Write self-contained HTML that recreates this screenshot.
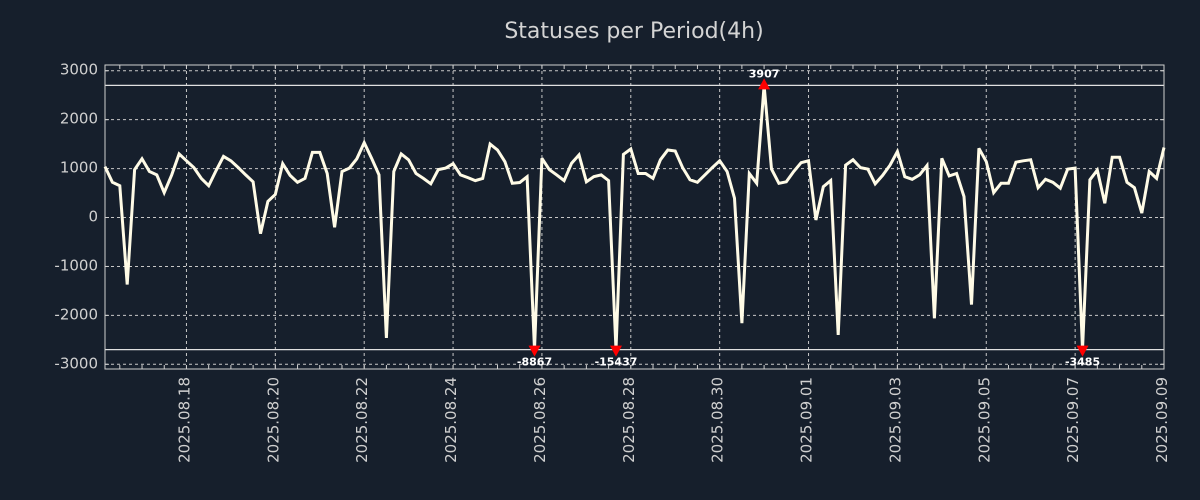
<!DOCTYPE html>
<html><head><meta charset="utf-8">
<style>
html,body{margin:0;padding:0;background:#161f2c;}
svg{display:block;font-family:"DejaVu Sans","Liberation Sans",sans-serif;}
</style></head>
<body>
<svg id="chart" width="1200" height="500" viewBox="0 0 1200 500" xmlns="http://www.w3.org/2000/svg">
<rect width="1200" height="500" fill="#161f2c"/>
<text x="634" y="38" text-anchor="middle" font-size="22" fill="#d4d4d4">Statuses per Period(4h)</text>
<g id="grid"></g><g id="axes"></g><g id="series"></g><g id="marks"></g>
</svg>
<script>
const values = [1040,720,650,-1370,980,1200,940,870,510,870,1300,1160,1020,800,650,960,1250,1160,1020,870,730,-330,330,470,1100,860,720,800,1330,1330,900,-200,940,1010,1200,1530,1210,870,-2460,940,1300,1180,900,800,690,980,1010,1100,870,
815,755,800,1500,1380,1140,700,715,835,-8867,1210,980,870,755,1110,1280,730,835,870,755,-15437,1290,1400,900,900,800,1180,1380,1360,1020,770,720,870,1020,1160,940,395,-2160,900,700,3907,990,700,730,940,1120,1160,
-50,630,755,-2400,1070,1180,1020,990,690,860,1070,1350,835,780,870,1060,-2060,1210,850,900,430,-1780,1415,1140,510,700,700,1130,1160,1180,610,780,720,600,990,1010,-3485,770,970,290,1230,1230,720,610,90,940,800,1430];
const yTicks = [3000,2000,1000,0,-1000,-2000,-3000];
const xTickLabels = ["2025.08.18","2025.08.20","2025.08.22","2025.08.24","2025.08.26","2025.08.28","2025.08.30","2025.09.01","2025.09.03","2025.09.05","2025.09.07","2025.09.09"];
const xTickHours = [44,92,140,188,236,284,332,380,428,476,524,572];
const clipLimit = 2700;
const periodHours = 4;

const NS="http://www.w3.org/2000/svg";
const L=105,R=1164,T=65,B=369;
const yMin=-3096,yMax=3117;
const totalH=(values.length-1)*periodHours;
const xH=h=>L+(R-L)*h/totalH;
const xI=i=>xH(i*periodHours);
const y=v=>B-(v-yMin)/(yMax-yMin)*(B-T);
function mk(tag,attrs,parent){const e=document.createElementNS(NS,tag);for(const k in attrs)e.setAttribute(k,attrs[k]);parent.appendChild(e);return e;}
const grid=document.getElementById('grid'),axes=document.getElementById('axes'),series=document.getElementById('series'),marks=document.getElementById('marks');

yTicks.forEach(v=>{
  const g=mk('line',{x1:L,x2:R,y1:y(v),y2:y(v),stroke:'#c8c8c8','stroke-width':1,'stroke-dasharray':'3,3'},grid);
  
  
  [[L,L+4],[R,R-4]].forEach(p=>{const t=mk('line',{x1:p[0],x2:p[1],y1:y(v),y2:y(v),stroke:'#d0d0d0'},axes);
    
    });
  const t=mk('text',{x:L-7,y:y(v)+4,'text-anchor':'end','font-size':15,fill:'#d0d0d0'},axes);
  
  
  t.textContent=v;
});
for(let h=8;h<=totalH;h+=12){
  const x=xH(h);
  [[T,T+4],[B,B-4]].forEach(p=>{const t=mk('line',{x1:x,x2:x,y1:p[0],y2:p[1],stroke:'#d0d0d0'},axes);
    
    });
}
xTickHours.forEach((h,i)=>{
  const x=xH(h);
  const g=mk('line',{x1:x,x2:x,y1:T,y2:B,stroke:'#c8c8c8','stroke-width':1,'stroke-dasharray':'3,3'},grid);
  
  
  const t=mk('text',{x:0,y:0,'text-anchor':'end','font-size':15,fill:'#d0d0d0',transform:`translate(${x+3},377) rotate(-90)`},axes);
  
  
  t.textContent=xTickLabels[i];
});
const fr=mk('rect',{x:L,y:T,width:R-L,height:B-T,fill:'none',stroke:'#d0d0d0','stroke-width':1},axes);


[clipLimit,-clipLimit].forEach(v=>{
  const c=mk('line',{x1:L,x2:R,y1:y(v),y2:y(v),stroke:'#e0e0e0','stroke-width':1.2},grid);
  
  
});
const clip=v=>Math.max(-clipLimit,Math.min(clipLimit,v));
const pts=values.map((v,i)=>xI(i).toFixed(1)+','+y(clip(v)).toFixed(1)).join(' ');
const line=mk('polyline',{points:pts,fill:'none',stroke:'#fffbe6','stroke-width':3,'stroke-linejoin':'miter','stroke-miterlimit':3},series);


values.forEach((v,i)=>{
  if(Math.abs(v)<=clipLimit)return;
  const x=xI(i),yy=y(clip(v)),up=v>0;
  const tri=mk('polygon',{points:up?`${x-6},${yy+4} ${x+6},${yy+4} ${x},${yy-7}`:`${x-6},${yy-4} ${x+6},${yy-4} ${x},${yy+7}`,fill:'#ff0000'},marks);
  
  
  const t=mk('text',{x:x,y:up?yy-8:yy+16,'text-anchor':'middle','font-size':11,'font-weight':'bold',fill:'#ffffff'},marks);
  
  
  t.textContent=v;
});
</script>
</body></html>
